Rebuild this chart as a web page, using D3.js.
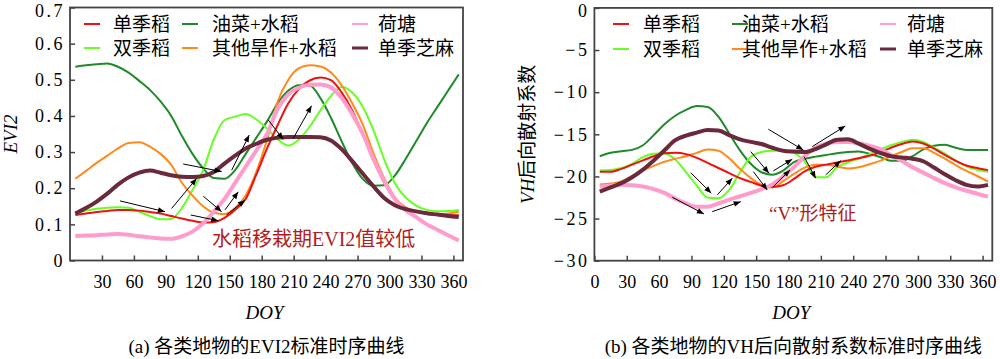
<!DOCTYPE html>
<html>
<head>
<meta charset="utf-8">
<script src="https://cdn.jsdelivr.net/npm/d3@7"></script>
<style>
body{margin:0;background:#fff}
svg{display:block}
text{font-family:"Liberation Serif","Times New Roman","Noto Sans CJK SC",serif;fill:#000}
</style>
</head>
<body>
<svg width="1000" height="359"></svg>
<script>
// day of year sampled every 10 days
var doy = [5,15,25,35,45,55,65,75,85,95,105,115,125,135,145,155,165,175,185,195,205,215,225,235,245,255,265,275,285,295,305,315,325,335,345,355,365];

var names = ['单季稻','油菜+水稻','荷塘','双季稻','其他旱作+水稻','单季芝麻'];
var colors = ['#f01010','#1f8a2a','#ff9ccc','#66ff22','#ff8a1a','#6b2a3c'];
var widths = [2,2,4,2,2,4];
var drawOrder = [1,3,4,0,2,5];

// EVI2
var evi_single = [0.126,0.130,0.134,0.137,0.140,0.140,0.138,0.134,0.130,0.123,0.116,0.110,0.105,0.106,0.118,0.140,0.170,0.238,0.310,0.375,0.435,0.475,0.498,0.506,0.499,0.465,0.415,0.350,0.280,0.215,0.170,0.145,0.135,0.130,0.126,0.125,0.125];
var evi_rape = [0.536,0.540,0.543,0.545,0.536,0.520,0.497,0.472,0.440,0.400,0.345,0.295,0.255,0.228,0.226,0.250,0.295,0.340,0.385,0.435,0.470,0.485,0.484,0.450,0.395,0.330,0.270,0.225,0.207,0.208,0.235,0.280,0.330,0.380,0.425,0.470,0.515];
var evi_lotus = [0.068,0.069,0.070,0.072,0.073,0.071,0.067,0.064,0.061,0.060,0.067,0.080,0.103,0.135,0.170,0.215,0.260,0.305,0.350,0.420,0.460,0.478,0.486,0.487,0.479,0.450,0.405,0.350,0.280,0.220,0.170,0.140,0.120,0.100,0.085,0.070,0.055];
var evi_double = [0.130,0.138,0.143,0.146,0.147,0.146,0.135,0.123,0.114,0.115,0.145,0.195,0.250,0.335,0.388,0.398,0.405,0.390,0.365,0.335,0.318,0.335,0.370,0.415,0.455,0.480,0.465,0.425,0.360,0.280,0.214,0.175,0.152,0.140,0.136,0.137,0.140];
var evi_dry = [0.226,0.248,0.270,0.290,0.310,0.325,0.327,0.315,0.295,0.265,0.215,0.180,0.150,0.132,0.128,0.145,0.180,0.245,0.334,0.440,0.500,0.532,0.540,0.537,0.520,0.485,0.435,0.375,0.296,0.228,0.175,0.147,0.135,0.130,0.127,0.130,0.135];
var evi_sesame = [0.130,0.145,0.163,0.185,0.210,0.230,0.243,0.249,0.243,0.236,0.232,0.231,0.234,0.245,0.268,0.290,0.310,0.323,0.334,0.340,0.342,0.342,0.342,0.341,0.332,0.308,0.275,0.240,0.205,0.173,0.153,0.142,0.136,0.131,0.127,0.123,0.120];

// VH backscatter (dB)
var vh_single = [-19.45,-19.45,-19.1,-18.6,-18.1,-17.6,-17.25,-17.2,-17.35,-17.8,-18.4,-19.0,-19.6,-20.2,-20.65,-21.1,-21.25,-21.05,-20.3,-19.4,-18.85,-18.6,-18.35,-18.1,-17.85,-17.55,-17.15,-16.6,-16.15,-15.85,-16.1,-16.7,-17.45,-18.15,-18.7,-19.0,-19.25];
var vh_rape = [-17.6,-17.2,-17.0,-16.85,-16.3,-15.1,-13.8,-12.8,-12.1,-11.65,-11.75,-12.9,-14.9,-16.9,-18.5,-19.5,-19.8,-19.3,-18.3,-17.9,-17.65,-17.45,-17.25,-17.1,-17.05,-17.3,-17.7,-18.15,-18.15,-17.6,-16.8,-16.35,-16.25,-16.6,-16.85,-16.85,-16.85];
var vh_lotus = [-21.2,-21.1,-21.0,-21.05,-21.2,-21.5,-21.95,-22.65,-23.2,-23.6,-23.6,-23.2,-22.75,-22.35,-21.95,-21.5,-20.95,-20.0,-18.9,-17.6,-16.6,-16.1,-15.9,-15.9,-16.05,-16.35,-16.75,-17.45,-18.15,-18.9,-19.55,-20.2,-20.8,-21.3,-21.7,-22.05,-22.4];
var vh_double = [-19.3,-19.25,-19.0,-18.5,-17.7,-17.3,-17.25,-18.0,-19.5,-21.1,-22.5,-22.6,-21.6,-19.5,-17.7,-17.1,-16.95,-16.95,-17.2,-18.25,-20.1,-20.1,-18.9,-18.35,-17.9,-17.35,-16.8,-16.3,-15.9,-15.65,-15.9,-16.6,-17.3,-18.1,-18.8,-19.2,-19.45];
var vh_dry = [-20.95,-20.85,-20.6,-19.95,-19.3,-18.75,-18.25,-17.9,-17.6,-17.2,-16.8,-16.95,-17.85,-19.1,-20.2,-21.0,-21.3,-20.55,-19.7,-18.95,-18.6,-18.6,-18.85,-19.05,-18.9,-18.55,-18.15,-17.6,-17.1,-16.65,-16.65,-17.2,-17.9,-18.65,-19.35,-19.95,-20.6];
var vh_sesame = [-21.8,-21.3,-20.8,-20.1,-19.2,-18.1,-16.9,-15.7,-15.15,-14.8,-14.5,-14.55,-15.1,-15.6,-15.9,-16.15,-16.6,-16.95,-17.05,-17.1,-16.75,-16.2,-15.65,-15.6,-16.1,-16.7,-17.2,-17.6,-17.75,-17.9,-18.2,-18.95,-19.75,-20.45,-21.0,-21.2,-21.0];

// arrows: [doy1, v1, doy2, v2]
var evi_arrows = [[46.9,0.165,89.2,0.135],[95.4,0.144,118.9,0.227],[106.3,0.267,142.4,0.246],[151.8,0.250,168.3,0.347],[125.1,0.178,142.4,0.135],[145.5,0.140,158,0.190],[113.3,0.126,139.2,0.110],[147,0.126,164.2,0.167],[186.1,0.389,200.2,0.335],[209.6,0.338,226.8,0.428]];
var vh_arrows = [[89.3,-19.55,108.4,-21.99],[114,-22.19,127.9,-20.21],[72.2,-22.47,101.6,-24.45],[109.3,-24.18,135.7,-22.99],[145,-17.06,161.9,-19.62],[165.9,-19.35,183.5,-17.96],[161.3,-14.4,193.7,-16.86],[202,-16.46,232.7,-14.01],[147.4,-19.43,160.3,-21.6],[165.6,-21.25,181.4,-19.23],[194.4,-17.65,205.2,-20.21],[214.5,-19.82,228.4,-18.13]];

var eviTicksX = [30,60,90,120,150,180,210,240,270,300,330,360];
var vhTicksX = [0,30,60,90,120,150,180,210,240,270,300,330,360];
var eviTicksY = [0,0.1,0.2,0.3,0.4,0.5,0.6,0.7];
var vhTicksY = [0,-5,-10,-15,-20,-25,-30];

var svg = d3.select('svg');
svg.append('rect').attr('width',1000).attr('height',359).attr('fill','#fff');
svg.append('defs').append('marker').attr('id','ah')
  .attr('viewBox','0 0 10 10').attr('refX',10).attr('refY',5)
  .attr('markerWidth',8).attr('markerHeight',7).attr('markerUnits','userSpaceOnUse')
  .attr('orient','auto')
  .append('path').attr('d','M0,1L10,5L0,9Z').attr('fill','#000');

function panel(o){
  var g = svg.append('g');
  var x = d3.scaleLinear().domain([0,369]).range(o.xr);
  var y = d3.scaleLinear().domain(o.yd).range(o.yr);

  var line = d3.line().x(function(d,i){return x(doy[i]);}).y(function(d){return y(d);}).curve(d3.curveMonotoneX);

  var clip = 'clip'+o.id;
  svg.select('defs').append('clipPath').attr('id',clip).append('rect')
    .attr('x',o.xr[0]).attr('y',o.yr[1]).attr('width',o.xr[1]-o.xr[0]).attr('height',o.yr[0]-o.yr[1]);

  var lines = g.append('g').attr('clip-path','url(#'+clip+')');
  drawOrder.forEach(function(k){
    lines.append('path').attr('d',line(o.series[k])).attr('fill','none')
      .attr('stroke',colors[k]).attr('stroke-width',widths[k]).attr('stroke-linejoin','round');
  });

  g.selectAll('.arr').data(o.arrows).enter().append('line')
    .attr('x1',function(d){return x(d[0]);}).attr('y1',function(d){return y(d[1]);})
    .attr('x2',function(d){return x(d[2]);}).attr('y2',function(d){return y(d[3]);})
    .attr('stroke','#000').attr('stroke-width',1).attr('marker-end','url(#ah)');

  // axes
  var ax = g.append('g').attr('transform','translate(0,'+o.yr[0]+')')
    .call(d3.axisBottom(x).tickValues(o.xt).tickSize(-5).tickPadding(15).tickFormat(d3.format('d')));
  var ay = g.append('g').attr('transform','translate('+o.xr[0]+',0)')
    .call(d3.axisLeft(y).tickValues(o.yt).tickSize(-5).tickPadding(5).tickFormat(o.yf));
  [ax,ay].forEach(function(a){
    a.select('.domain').remove();
    a.selectAll('line').attr('stroke','#444').attr('stroke-width',1.5);
    a.selectAll('text').attr('font-size',18).attr('font-family',null).attr('fill','#000');
  });
  ay.selectAll('text').style('letter-spacing','2.5px');
  // keep the top label inside the picture
  ay.selectAll('.tick').filter(function(d){return d===o.yd[1];}).select('text').attr('dy','0.5em');

  g.append('rect').attr('x',o.xr[0]).attr('y',o.yr[1]).attr('width',o.xr[1]-o.xr[0]).attr('height',o.yr[0]-o.yr[1])
    .attr('fill','none').attr('stroke','#444').attr('stroke-width',1.8);

  // legend
  names.forEach(function(n,i){
    var c = i%3, r = Math.floor(i/3);
    var ly = o.legY[r];
    g.append('line').attr('x1',o.legLine[c]).attr('x2',o.legLine[c]+16).attr('y1',ly).attr('y2',ly)
      .attr('stroke',colors[i]).attr('stroke-width',i==5?3:2);
    g.append('text').attr('x',o.legText[c]).attr('y',ly).attr('dy','0.38em').attr('font-size',19).text(n);
  });

  var cx = (o.xr[0]+o.xr[1])/2;
  g.append('text').attr('x',cx-2).attr('y',319).attr('text-anchor','middle').attr('font-size',19)
    .attr('font-style','italic').text('DOY');
  g.append('text').attr('x',cx).attr('y',353).attr('text-anchor','middle').attr('font-size',19).text(o.caption);

  var yt = g.append('text').attr('transform','translate('+o.ytx+','+((o.yr[0]+o.yr[1])/2)+') rotate(-90)')
    .attr('text-anchor','middle').attr('font-size',19);
  o.ytitle(yt);

  g.append('text').attr('x',x(o.note[0])).attr('y',y(o.note[1])).attr('font-size',o.note[3])
    .attr('fill','#b01c22').style('fill','#b01c22').text(o.note[2]);
}

panel({
  id:'a', xr:[70,463], yr:[260.5,7.5], yd:[0,0.7],
  series:[evi_single,evi_rape,evi_lotus,evi_double,evi_dry,evi_sesame],
  arrows:evi_arrows, xt:eviTicksX, yt:eviTicksY,
  yf:function(d){return d===0?'0':d.toFixed(1);},
  legY:[24,48], legLine:[84,182,352], legText:[113,212,378],
  caption:'(a) 各类地物的EVI2标准时序曲线',
  ytx:17,
  ytitle:function(t){t.attr('font-style','italic').text('EVI2');},
  note:[133.3,0.0415,'水稻移栽期EVI2值较低',20]
});

panel({
  id:'b', xr:[594.4,992.3], yr:[260.7,7.9], yd:[-30,0],
  series:[vh_single,vh_rape,vh_lotus,vh_double,vh_dry,vh_sesame],
  arrows:vh_arrows, xt:vhTicksX, yt:vhTicksY,
  yf:d3.format('d'),
  legY:[24,49], legLine:[613,732,880], legText:[643,742,907],
  caption:'(b) 各类地物的VH后向散射系数标准时序曲线',
  ytx:534,
  ytitle:function(t){
    t.append('tspan').attr('font-style','italic').text('VH');
    t.append('tspan').text('后向散射系数');
  },
  note:[161.9,-25.16,'“V”形特征',19]
});
</script>
</body>
</html>
